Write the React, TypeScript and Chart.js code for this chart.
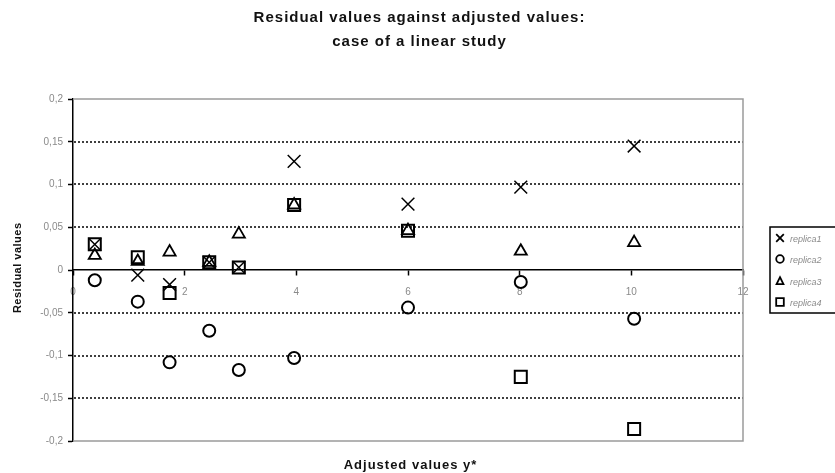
import React, { useEffect, useRef } from "react";
import { Chart, registerables } from "chart.js";

Chart.register(...registerables);

// ---- data ----
const xValues = [0.39, 1.16, 1.73, 2.44, 2.97, 3.96, 6.0, 8.02, 10.05];
const replica1 = [0.03, -0.006, -0.017, 0.009, 0.003, 0.127, 0.077, 0.097, 0.145];
const replica2 = [-0.012, -0.037, -0.108, -0.071, -0.117, -0.103, -0.044, -0.014, -0.057];
const replica3 = [0.017, 0.01, 0.021, 0.009, 0.042, 0.076, 0.046, 0.022, 0.032];
const replica4 = [0.03, 0.015, -0.027, 0.009, 0.003, 0.076, 0.046, -0.125, -0.186];
const seriesNames = ["replica1", "replica2", "replica3", "replica4"];
const titleLines = ["Residual values against adjusted values:", "case of a linear study"];
const xTitle = "Adjusted values y*";
const yTitle = "Residual values";

const FONT = '"Liberation Sans", Arial, sans-serif';
const TICK_GRAY = "#8a8a8a";

function fmt(v: number): string {
  const r = Math.round(v * 100) / 100;
  return String(r === 0 ? 0 : r).replace(".", ",");
}

function drawGlyph(ctx: CanvasRenderingContext2D, kind: string, x: number, y: number, s: number) {
  ctx.beginPath();
  if (kind === "crossRot") {
    ctx.moveTo(x - s, y - s);
    ctx.lineTo(x + s, y + s);
    ctx.moveTo(x + s, y - s);
    ctx.lineTo(x - s, y + s);
  } else if (kind === "circle") {
    ctx.arc(x, y, s, 0, Math.PI * 2);
  } else if (kind === "triangle") {
    ctx.moveTo(x, y - s);
    ctx.lineTo(x + s * 0.9, y + s * 0.8);
    ctx.lineTo(x - s * 0.9, y + s * 0.8);
    ctx.closePath();
  } else {
    ctx.rect(x - s, y - s, 2 * s, 2 * s);
  }
  ctx.stroke();
}

const legendKinds = ["crossRot", "circle", "triangle", "rect"];

function spacedText(ctx: any, text: string, x: number, y: number, spacing: number) {
  ctx.letterSpacing = `${spacing}px`;
  ctx.fillText(text, x + spacing / 2, y);
  ctx.letterSpacing = "0px";
}

const framePlugin = {
  id: "frame",
  beforeDatasetsDraw(chart: any) {
    const { ctx, chartArea: a } = chart;
    const y = chart.scales.y;
    ctx.save();
    ctx.strokeStyle = "#000";
    ctx.lineWidth = 1.5;
    ctx.setLineDash([2, 2]);
    y.ticks.forEach((t: any) => {
      const v = t.value;
      if (Math.abs(v) < 1e-9 || Math.abs(v) > 0.199) return;
      const py = Math.round(y.getPixelForValue(v));
      ctx.beginPath();
      ctx.moveTo(a.left + 1, py);
      ctx.lineTo(a.right, py);
      ctx.stroke();
    });
    ctx.setLineDash([]);
    ctx.strokeStyle = "#9a9a9a";
    ctx.lineWidth = 1.5;
    ctx.beginPath();
    ctx.moveTo(a.left, a.top);
    ctx.lineTo(a.right, a.top);
    ctx.lineTo(a.right, a.bottom);
    ctx.lineTo(a.left, a.bottom);
    ctx.stroke();
    ctx.restore();
  },
  afterDraw(chart: any) {
    const { ctx } = chart;
    ctx.save();
    // titles
    ctx.fillStyle = "#111";
    ctx.textAlign = "center";
    ctx.textBaseline = "middle";
    ctx.font = `bold 15px ${FONT}`;
    spacedText(ctx, titleLines[0], 419, 18, 1);
    spacedText(ctx, titleLines[1], 419, 42, 1);
    ctx.font = `bold 13px ${FONT}`;
    spacedText(ctx, xTitle, 410, 465, 1);
    ctx.save();
    ctx.translate(18, 268);
    ctx.rotate(-Math.PI / 2);
    ctx.font = `bold 11px ${FONT}`;
    spacedText(ctx, yTitle, 0, 0, 0.5);
    ctx.restore();

    // legend
    const lx = 770;
    const ly = 227;
    ctx.strokeStyle = "#000";
    ctx.lineWidth = 1.5;
    ctx.strokeRect(lx, ly, 80, 86);
    const rows = [238, 259, 281, 302];
    seriesNames.forEach((name, i) => {
      ctx.strokeStyle = "#000";
      ctx.lineWidth = 1.8;
      drawGlyph(ctx, legendKinds[i], 780, rows[i], 3.8);
      ctx.fillStyle = TICK_GRAY;
      ctx.textAlign = "left";
      ctx.font = `italic 9px ${FONT}`;
      ctx.fillText(name, 790, rows[i] + 1);
    });
    ctx.restore();
  },
};

export default function App() {
  const ref = useRef<HTMLCanvasElement | null>(null);

  useEffect(() => {
    if (!ref.current) return;
    const mk = (arr: number[]) => xValues.map((x, i) => ({ x, y: arr[i] }));
    const base = {
      borderColor: "#000",
      backgroundColor: "rgba(0,0,0,0)",
      showLine: false,
    };
    const chart = new Chart(ref.current, {
      type: "scatter",
      data: {
        datasets: [
          { ...base, label: seriesNames[0], data: mk(replica1), pointStyle: "crossRot", pointRadius: 9, borderWidth: 1.5 },
          { ...base, label: seriesNames[1], data: mk(replica2), pointStyle: "circle", pointRadius: 6, borderWidth: 2 },
          { ...base, label: seriesNames[2], data: mk(replica3), pointStyle: "triangle", pointRadius: 7, borderWidth: 1.8 },
          { ...base, label: seriesNames[3], data: mk(replica4), pointStyle: "rect", pointRadius: 8.5, borderWidth: 2 },
        ],
      },
      options: {
        animation: false,
        responsive: false,
        devicePixelRatio: 1,
        layout: { padding: { left: 33, right: 92, top: 99, bottom: 32 } },
        plugins: {
          legend: { display: false },
          title: { display: false },
          tooltip: { enabled: false },
        },
        scales: {
          x: {
            type: "linear",
            min: 0,
            max: 12,
            position: { y: 0 } as any,
            ticks: {
              stepSize: 2,
              color: TICK_GRAY,
              font: { family: FONT, size: 10 },
              padding: 11,
              maxRotation: 0,
            },
            grid: {
              display: true,
              drawOnChartArea: false,
              drawTicks: true,
              tickLength: 5,
              tickColor: "#000",
              tickWidth: 1.5,
            },
            border: { display: true, color: "#000", width: 1.5 },
          },
          y: {
            type: "linear",
            min: -0.2,
            max: 0.2,
            ticks: {
              stepSize: 0.05,
              color: TICK_GRAY,
              font: { family: FONT, size: 10 },
              padding: 5,
              callback: (v: any) => fmt(Number(v)),
            },
            grid: {
              display: true,
              drawOnChartArea: false,
              drawTicks: true,
              tickLength: 5,
              tickColor: "#000",
              tickWidth: 1.5,
            },
            border: { display: true, color: "#000", width: 1.5 },
            afterFit: (s: any) => {
              s.width = 40;
            },
          },
        },
      },
      plugins: [framePlugin],
    } as any);
    return () => chart.destroy();
  }, []);

  return (
    <div style={{ position: "fixed", left: 0, top: 0, width: 835, height: 473, background: "#fff" }}>
      <canvas ref={ref} width={835} height={473} style={{ display: "block" }} />
    </div>
  );
}
